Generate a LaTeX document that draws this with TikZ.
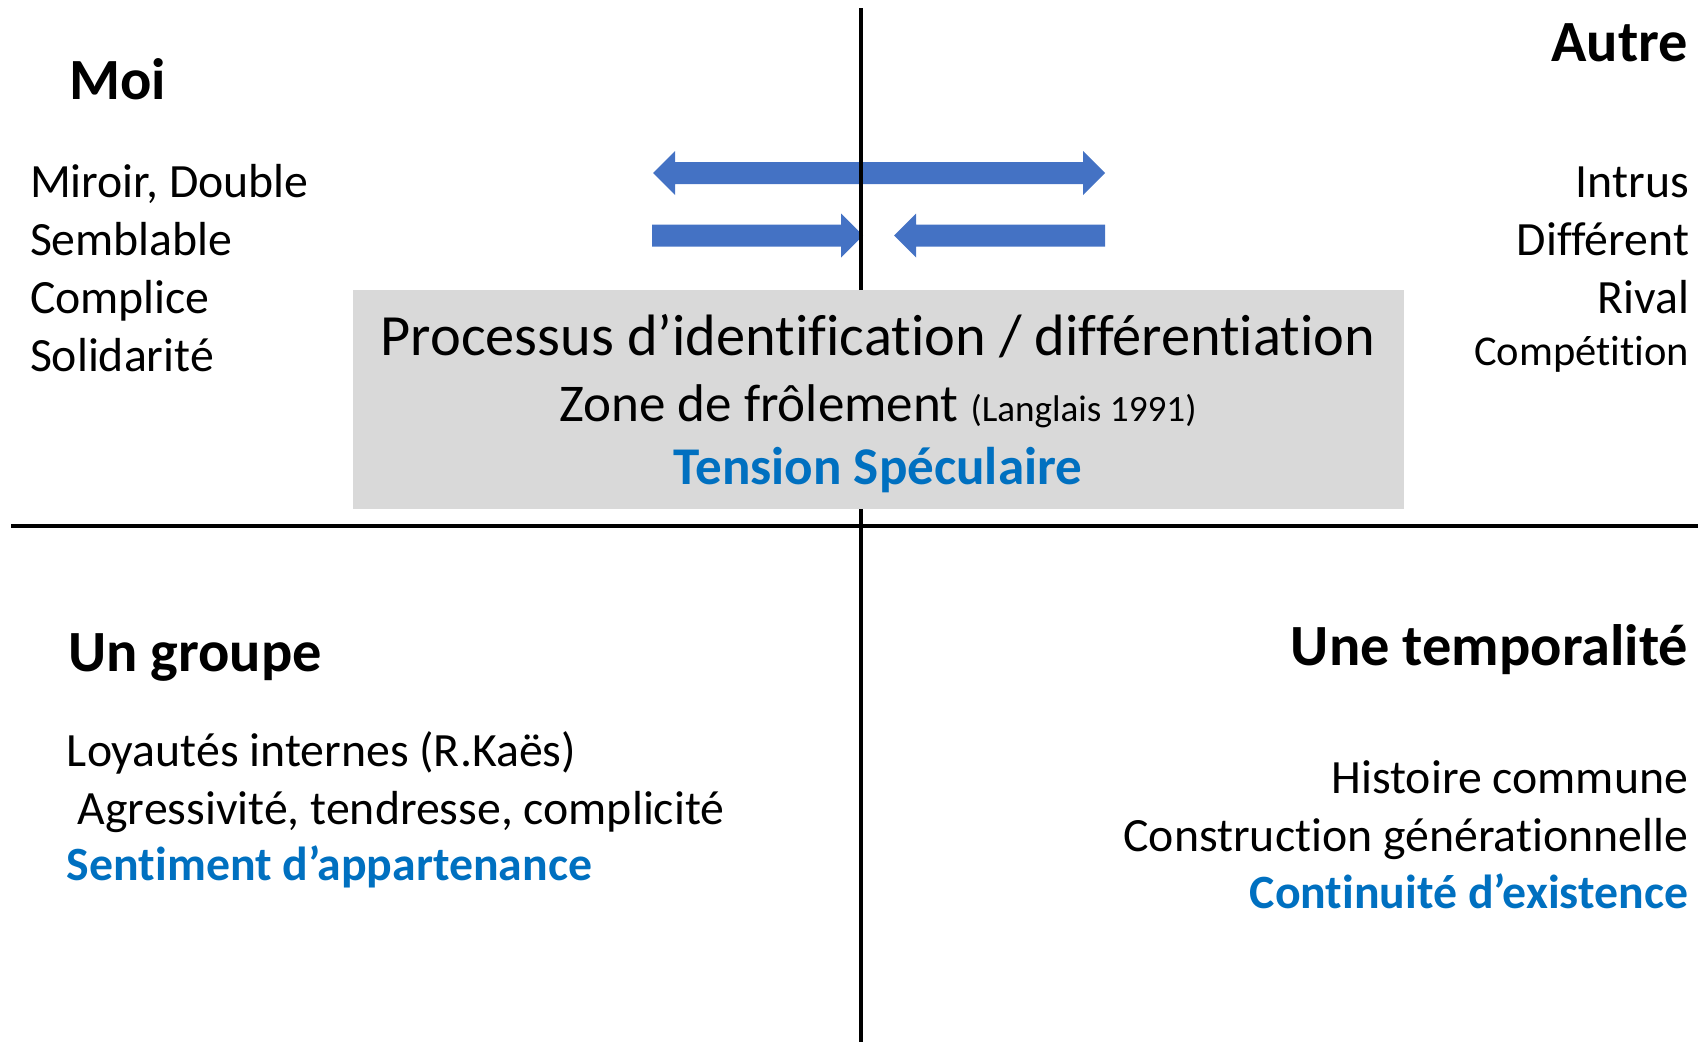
\documentclass[tikz,border=0pt]{standalone}
\usepackage{fontspec}
\setmainfont{Carlito}[Ligatures={NoCommon}]
\usetikzlibrary{calc}
\definecolor{arrowblue}{HTML}{4472C4}
\definecolor{textblue}{HTML}{0070C0}
\definecolor{boxgray}{HTML}{D9D9D9}
\tikzstyle{axis}=[line width=2.3pt,black]
\tikzstyle{label}=[inner sep=0pt,outer sep=0pt]
\tikzstyle{headline}=[label,font=\fontsize{33}{40}\selectfont\bfseries]
\tikzstyle{body}=[label,font=\fontsize{27}{32}\selectfont]
\tikzstyle{small}=[label,font=\fontsize{24}{29}\selectfont]
\tikzstyle{keyword}=[label,font=\fontsize{27}{32}\selectfont\bfseries,text=textblue]
\newcommand{\blockarrow}[4]{
% tail x, tip x, centre y, 1 = two heads
\pgfmathsetmacro{\dir}{(#2>#1)?1:-1}
\pgfmathsetmacro{\head}{22*\dir}
\ifnum#4=1
\fill[arrowblue] (#1,#3) -- (#1+\head,#3-22) -- (#1+\head,#3-11) -- (#2-\head,#3-11) -- (#2-\head,#3-22) -- (#2,#3)
  -- (#2-\head,#3+22) -- (#2-\head,#3+11) -- (#1+\head,#3+11) -- (#1+\head,#3+22) -- cycle;
\else
\fill[arrowblue] (#1,#3-11) -- (#2-\head,#3-11) -- (#2-\head,#3-22) -- (#2,#3)
  -- (#2-\head,#3+22) -- (#2-\head,#3+11) -- (#1,#3+11) -- cycle;
\fi
}

\begin{document}
\begin{tikzpicture}[x=0.5652pt,y=-0.5652pt]
\useasboundingbox (0,0) rectangle (1698,1042);

\blockarrow{653}{1105}{173}{1}
\blockarrow{652}{863}{235.5}{0}
\blockarrow{1105}{894}{235.5}{0}

\coordinate (top) at (861,8);
\coordinate (bottom) at (861,1042);
\coordinate (left) at (11,526);
\coordinate (right) at (1698,526);
\draw[axis] (top) -- (bottom);
\draw[axis] (left) -- (right);

% zone centrale
\fill[boxgray] (353,290) rectangle (1404,509);
\node[label,anchor=base,font=\fontsize{33}{40}\selectfont] (process) at (878,355) {Processus d’identification / différentiation};
\node[label,anchor=base] (zone) at (878,421) {\fontsize{30}{36}\selectfont Zone de frôlement {\fontsize{21}{25}\selectfont (Langlais 1991)}};
\node[keyword,anchor=base,font=\fontsize{30}{36}\selectfont\bfseries] (tension) at (878,484) {Tension Spéculaire};

% Moi / Autre
\node[headline,anchor=base west] (moi) at (69,99) {Moi};
\foreach \txt [count=\i] in {{Miroir, Double},Semblable,Complice,Solidarité} {
  \node[body,anchor=base west] (moi\i) at (30,139+58*\i) {\txt};
}
\node[headline,anchor=base east] (autre) at (1688,61) {Autre};
\foreach \txt [count=\i] in {Intrus,Différent,Rival} {
  \node[body,anchor=base east] (autre\i) at (1689,139.5+58*\i) {\txt};
}
\node[small,anchor=base east] (autre4) at (1689,365) {Compétition};

% Un groupe / Une temporalite
\node[headline,anchor=base west] (groupe) at (68,671) {Un groupe};
\node[body,anchor=base west] (groupe1) at (67,766) {Loyautés internes (R.Kaës)};
\node[body,anchor=base west] (groupe2) at (67,824) {\ Agressivité, tendresse, complicité};
\node[keyword,anchor=base west] (groupe3) at (67,880) {Sentiment d’appartenance};

\node[headline,anchor=base east] (temps) at (1688,665) {Une temporalité};
\node[body,anchor=base east] (temps1) at (1688,793) {Histoire commune};
\node[body,anchor=base east] (temps2) at (1688,851) {Construction générationnelle};
\node[keyword,anchor=base east] (temps3) at (1688,908) {Continuité d’existence};
\end{tikzpicture}
\end{document}
